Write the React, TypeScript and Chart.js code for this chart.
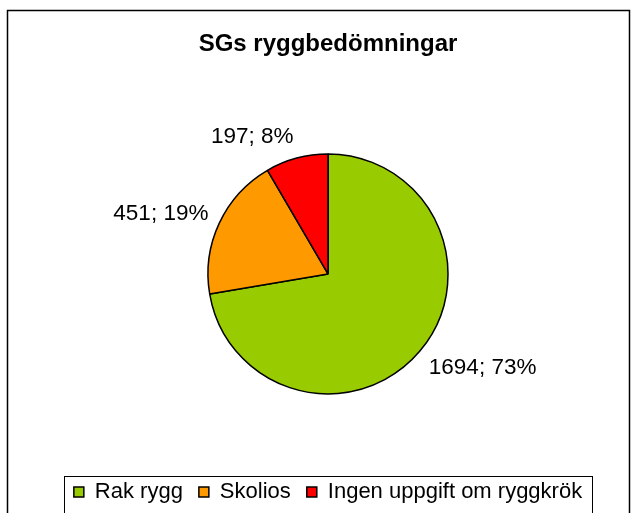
import React, { useEffect, useRef } from "react";
import { Chart, registerables } from "chart.js";

Chart.register(...registerables);

const chartTitle = "SGs ryggbedömningar";
const categories = ["Rak rygg", "Skolios", "Ingen uppgift om ryggkrök"];
const counts = [1694, 451, 197];
const percentLabels = [73, 19, 8];
const sliceColors = ["#99CC00", "#FF9900", "#FF0000"];

const FONT = "'Liberation Sans', Arial, sans-serif";

const framePlugin = {
  id: "frame",
  beforeDraw(chart: any) {
    const { ctx } = chart;
    ctx.save();
    ctx.fillStyle = "#ffffff";
    ctx.fillRect(0, 0, chart.width, chart.height);
    ctx.strokeStyle = "#000000";
    ctx.lineWidth = 1.5;
    ctx.strokeRect(7.5, 10.5, 622, 560);
    ctx.restore();
  },
  afterDraw(chart: any) {
    const legend = chart.legend;
    if (!legend || !legend.legendHitBoxes || !legend.legendHitBoxes.length) return;
    const boxes = legend.legendHitBoxes;
    let minL = Infinity;
    let maxR = -Infinity;
    boxes.forEach((b: any) => {
      minL = Math.min(minL, b.left);
      maxR = Math.max(maxR, b.left + b.width);
    });
    const { ctx } = chart;
    ctx.save();
    ctx.strokeStyle = "#000000";
    ctx.lineWidth = 1;
    ctx.strokeRect(Math.round(minL - 10) + 0.5, Math.round(legend.top + 11) + 0.5, Math.round(maxR - minL + 20), 80);
    ctx.restore();
  },
};

const labelPlugin = {
  id: "sliceLabels",
  afterDatasetsDraw(chart: any) {
    const { ctx } = chart;
    const meta = chart.getDatasetMeta(0);
    const fontSize = 22.5;
    ctx.save();
    ctx.font = `${fontSize}px ${FONT}`;
    ctx.fillStyle = "#000000";
    ctx.textBaseline = "middle";
    meta.data.forEach((arc: any, i: number) => {
      const p = arc.getProps(["x", "y", "startAngle", "endAngle", "outerRadius"], true);
      const mid = (p.startAngle + p.endAngle) / 2;
      const dx = Math.cos(mid);
      const dy = Math.sin(mid);
      const r = p.outerRadius + 12;
      const px = p.x + dx * r;
      const py = p.y + dy * r + dy * (fontSize / 2) + 1;
      ctx.textAlign = dx >= 0 ? "left" : "right";
      ctx.fillText(`${counts[i]}; ${percentLabels[i]}%`, px, py);
    });
    ctx.restore();
  },
};

export default function App() {
  const canvasRef = useRef<HTMLCanvasElement | null>(null);

  useEffect(() => {
    if (!canvasRef.current) return;
    const chart = new Chart(canvasRef.current, {
      type: "pie",
      data: {
        labels: categories,
        datasets: [
          {
            data: counts,
            backgroundColor: sliceColors,
            borderColor: "#000000",
            borderWidth: 1.5,
            radius: 120,
          } as any,
        ],
      },
      options: {
        responsive: false,
        animation: false,
        devicePixelRatio: 1,
        layout: { padding: { top: 10, left: 19, right: 0, bottom: 0 } },
        plugins: {
          title: {
            display: true,
            text: chartTitle,
            color: "#000000",
            font: { family: FONT, size: 24, weight: "bold", lineHeight: 1.2 },
            padding: { top: 20, bottom: 24 },
          },
          legend: {
            display: true,
            position: "bottom",
            labels: {
              color: "#000000",
              font: { family: FONT, size: 22 },
              boxWidth: 10,
              boxHeight: 10,
              padding: 16,
            },
          },
          tooltip: { enabled: false },
        },
      } as any,
      plugins: [framePlugin, labelPlugin],
    });
    return () => chart.destroy();
  }, []);

  return (
    <div style={{ position: "absolute", left: 0, top: 0, width: 637, height: 513 }}>
      <canvas ref={canvasRef} width={637} height={513} />
    </div>
  );
}
